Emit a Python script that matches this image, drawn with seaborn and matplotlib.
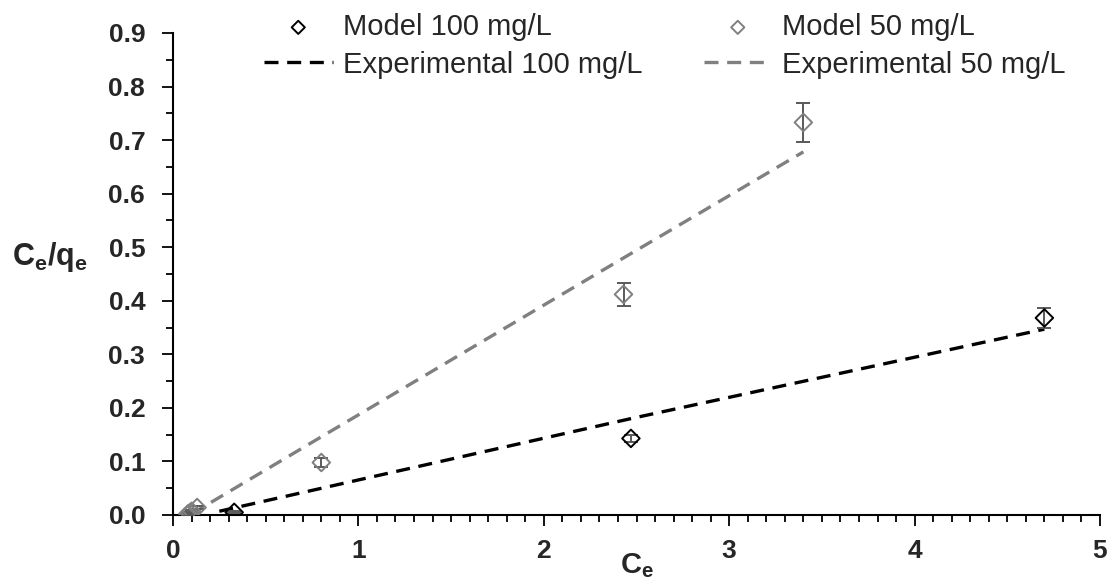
import matplotlib
matplotlib.use("Agg")
import matplotlib.pyplot as plt
import seaborn as sns
import pandas as pd
import numpy as np
from matplotlib.ticker import MultipleLocator, FormatStrFormatter

# ---- data ----
model100_x = [0.33, 2.47, 4.70]
model100_y = [0.005, 0.143, 0.368]
model100_err = [0.002, 0.006, 0.019]

model50_x = [0.08, 0.09, 0.10, 0.13, 0.80, 2.43, 3.40]
model50_y = [0.002, 0.004, 0.007, 0.014, 0.098, 0.412, 0.733]
model50_err = [0.002, 0.002, 0.003, 0.003, 0.008, 0.021, 0.036]

exp100_x = [0.25, 2.47, 4.70]
exp100_y = [0.007, 0.180, 0.347]

exp50_x = [0.10, 0.80, 2.43, 3.40]
exp50_y = [0.002, 0.146, 0.480, 0.678]

xticks = [0, 1, 2, 3, 4, 5]
yticks = [0.0, 0.1, 0.2, 0.3, 0.4, 0.5, 0.6, 0.7, 0.8, 0.9]

sns.set_theme(style="ticks")
plt.rcParams['font.family'] = ['Liberation Sans', 'DejaVu Sans']
plt.rcParams['mathtext.fontset'] = 'custom'
plt.rcParams['mathtext.rm'] = 'Liberation Sans'
plt.rcParams['mathtext.bf'] = 'Liberation Sans:bold'
plt.rcParams['mathtext.it'] = 'Liberation Sans:italic'

fig = plt.figure(figsize=(11.11, 5.82), dpi=100)
ax = fig.add_axes([173/1111, 1-515/582, (1100-173)/1111, (515-33)/582])

BLACK = '#000000'
GRAY = '#808080'
ERR = '#595959'

df_e100 = pd.DataFrame({'x': exp100_x, 'y': exp100_y})
df_e50 = pd.DataFrame({'x': exp50_x, 'y': exp50_y})
df_m100 = pd.DataFrame({'x': model100_x, 'y': model100_y})
df_m50 = pd.DataFrame({'x': model50_x, 'y': model50_y})

dash = (0, (4.2, 2.6))
sns.lineplot(data=df_e100, x='x', y='y', ax=ax, color=BLACK, lw=2.4,
             linestyle=dash, sort=False, estimator=None, label='Experimental 100 mg/L', zorder=2)
sns.lineplot(data=df_e50, x='x', y='y', ax=ax, color=GRAY, lw=2.4,
             linestyle=dash, sort=False, estimator=None, label='Experimental 50 mg/L', zorder=2)

ax.errorbar(model100_x, model100_y, yerr=model100_err, fmt='none', ecolor=ERR,
            elinewidth=1.4, capsize=5, capthick=1.4, zorder=3)
ax.errorbar(model50_x, model50_y, yerr=model50_err, fmt='none', ecolor=ERR,
            elinewidth=1.4, capsize=5, capthick=1.4, zorder=3)

sns.scatterplot(data=df_m100, x='x', y='y', ax=ax, marker='D', s=80,
                facecolor='none', edgecolor=BLACK, linewidth=1.4, label='Model 100 mg/L', zorder=4)
sns.scatterplot(data=df_m50, x='x', y='y', ax=ax, marker='D', s=80,
                facecolor='none', edgecolor=GRAY, linewidth=1.4, label='Model 50 mg/L', zorder=4)

ax.set_xlim(0, 5)
ax.set_ylim(0, 0.9)
ax.set_xticks(xticks)
ax.set_yticks(yticks)
ax.xaxis.set_minor_locator(MultipleLocator(0.1))
ax.yaxis.set_minor_locator(MultipleLocator(0.05))
ax.yaxis.set_major_formatter(FormatStrFormatter('%.1f'))
ax.set_xticklabels([str(t) for t in xticks])
for lab in ax.get_xticklabels() + ax.get_yticklabels():
    lab.set_fontweight('bold')
    lab.set_fontsize(19)
ax.tick_params(axis='x', which='major', direction='out', length=8, width=1.3, color='black', pad=9)
ax.tick_params(axis='y', which='major', direction='out', length=8, width=1.3, color='black', pad=12)
ax.tick_params(axis='both', which='minor', direction='out', length=5, width=1.3, color='black')

for s in ['top', 'right']:
    ax.spines[s].set_visible(False)
for s in ['left', 'bottom']:
    ax.spines[s].set_linewidth(1.5)
    ax.spines[s].set_color('black')

ax.set_xlabel(r'$\mathbf{C_e}$', fontsize=21)
ax.xaxis.set_label_coords(0.5, -0.075)
ax.set_ylabel(r'$\mathbf{C_e/q_e}$', fontsize=22, rotation=0)
ax.yaxis.set_label_coords(-0.133, 0.50)

handles, labels = ax.get_legend_handles_labels()
hmap = dict(zip(labels, handles))
order = ['Model 100 mg/L', 'Experimental 100 mg/L', 'Model 50 mg/L', 'Experimental 50 mg/L']
if ax.legend_:
    ax.legend_.remove()
fig.legend([hmap[k] for k in order], order, loc='upper left',
           bbox_to_anchor=(264/1111, 1-13/582), ncol=2, frameon=False,
           fontsize=21, handlelength=2.35, handletextpad=0.35, columnspacing=2.1,
           labelspacing=0.33, borderpad=0, borderaxespad=0, markerscale=0.75)

fig.savefig('out.png', dpi=100)
